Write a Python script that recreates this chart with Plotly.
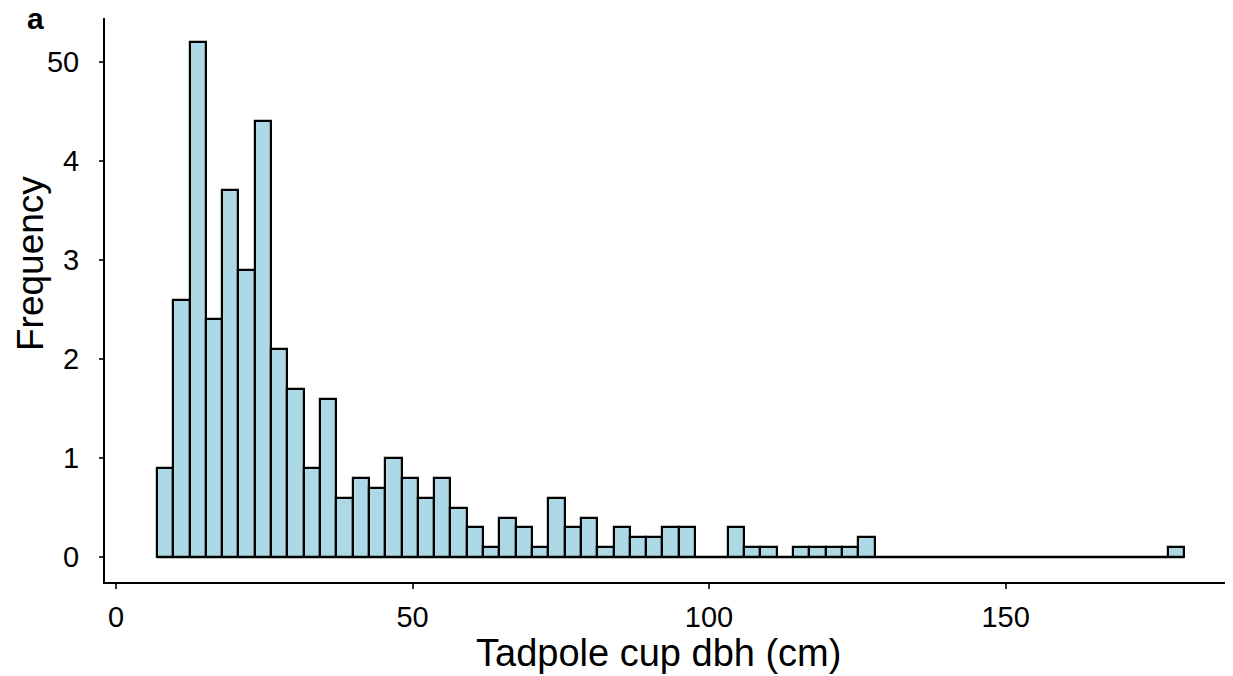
import plotly.graph_objects as go

# Histogram bins (cm) and frequencies
bin_start = 6.9
bin_width = 2.75
freq = [0.9, 2.6, 5.2, 2.4, 3.7, 2.9, 4.4, 2.1, 1.7, 0.9,
        1.6, 0.6, 0.8, 0.7, 1.0, 0.8, 0.6, 0.8, 0.5, 0.3,
        0.1, 0.4, 0.3, 0.1, 0.6, 0.3, 0.4, 0.1, 0.3, 0.2,
        0.2, 0.3, 0.3, 0.0, 0.0, 0.3, 0.1, 0.1, 0.0, 0.1,
        0.1, 0.1, 0.1, 0.2, 0.0, 0.0, 0.0, 0.0, 0.0, 0.0,
        0.0, 0.0, 0.0, 0.0, 0.0, 0.0, 0.0, 0.0, 0.0, 0.0,
        0.0, 0.0, 0.1]
x_ticks = [0, 50, 100, 150]
y_tickvals = [0, 1, 2, 3, 4, 5]
y_ticktext = ["0", "1", "2", "3", "4", "50"]

centers = [bin_start + bin_width * (i + 0.5) for i in range(len(freq))]
bin_end = bin_start + bin_width * len(freq)

FONT = "Liberation Sans, Arial, sans-serif"

fig = go.Figure()
fig.add_trace(go.Scatter(
    x=[bin_start, bin_end], y=[0, 0], mode="lines",
    line=dict(color="black", width=2.2), showlegend=False, hoverinfo="skip"))
fig.add_trace(go.Bar(
    x=centers, y=freq, width=bin_width,
    marker=dict(color="#ADD8E6", line=dict(color="black", width=2.2)),
    showlegend=False))

fig.update_layout(
    width=1233, height=676,
    margin=dict(l=105, r=8, t=18, b=94, autoexpand=False),
    paper_bgcolor="white", plot_bgcolor="white",
    font=dict(family=FONT, color="black"),
    bargap=0,
    annotations=[
        dict(text="<b>a</b>", xref="paper", yref="paper",
             x=-0.071, y=1.0, xanchor="left", yanchor="middle",
             showarrow=False, font=dict(size=30, family=FONT, color="black")),
        dict(text="Frequency", xref="paper", yref="paper",
             x=-0.066, y=0.564, xanchor="center", yanchor="middle", textangle=-90,
             showarrow=False, font=dict(size=37, family=FONT, color="black")),
        dict(text="Tadpole cup dbh (cm)", xref="paper", yref="paper",
             x=0.494, y=-0.126, xanchor="center", yanchor="middle",
             showarrow=False, font=dict(size=38, family=FONT, color="black")),
    ],
)
fig.update_xaxes(
    range=[-1.85, 187.0], tickvals=x_ticks, showgrid=False, zeroline=False,
    showline=True, linecolor="black", linewidth=2,
    ticks="outside", ticklen=5, tickwidth=2, tickcolor="#333333",
    tickfont=dict(size=29, family=FONT, color="black"),
    ticklabelstandoff=3,
)
fig.update_yaxes(
    range=[-0.25, 5.44], tickvals=y_tickvals, ticktext=y_ticktext,
    showgrid=False, zeroline=False,
    showline=True, linecolor="black", linewidth=2,
    ticks="outside", ticklen=4, tickwidth=2, tickcolor="#333333",
    tickfont=dict(size=29, family=FONT, color="black"),
    ticklabelstandoff=14,
)

fig.write_html("out.html")
